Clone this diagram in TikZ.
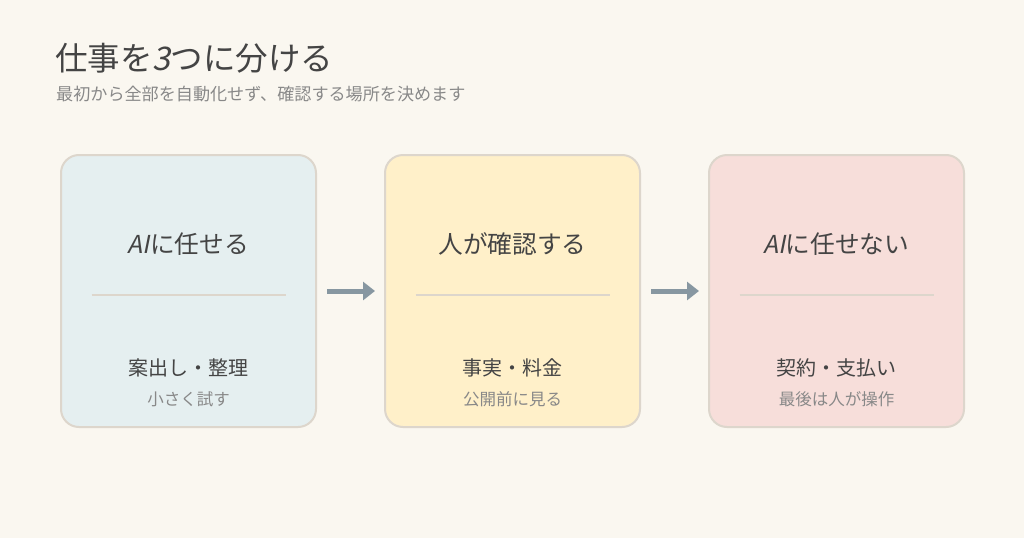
\documentclass[tikz,border=0pt]{standalone}
\usepackage{fontspec}
\setmainfont{Noto Sans CJK JP}
\newfontfamily\slfont[FakeSlant=0.2]{Noto Sans CJK JP}
\usetikzlibrary{arrows.meta}
\definecolor{bg}{HTML}{FAF7F0}
\definecolor{bd}{HTML}{DDD6CC}
\definecolor{cA}{HTML}{E5EFF0}
\definecolor{cB}{HTML}{FFF0C9}
\definecolor{cC}{HTML}{F7DEDA}
\definecolor{tx}{HTML}{444444}
\definecolor{gr}{HTML}{888888}
\definecolor{ar}{HTML}{8797A1}
\tikzset{
 card/.style={draw=bd,line width=2pt,rounded corners=18pt,minimum width=255pt,minimum height=272pt,inner sep=0pt},
 head/.style={text=tx,font=\fontsize{24.7}{29}\selectfont,anchor=center},
 lab/.style={text=tx,font=\fontsize{20}{24}\selectfont,anchor=center},
 sub/.style={text=gr,font=\fontsize{16.5}{19}\selectfont,anchor=center},
 div/.style={draw=bd,line width=1.2pt},
 arr/.style={draw=ar,line width=5pt,-{Triangle[length=12pt,width=18pt]}}
}
\begin{document}
\begin{tikzpicture}[x=1pt,y=-1pt]
\fill[bg] (0,0) rectangle (1024,538);
\useasboundingbox (0,0) rectangle (1024,538);
\node[anchor=base west,text=tx,font=\fontsize{32.5}{36}\selectfont,inner sep=0pt] (t) at (55,70) {仕事を{\slfont 3}つに分ける};
\node[anchor=base west,text=gr,font=\fontsize{17.1}{20}\selectfont,inner sep=0pt] (s) at (56,100) {最初から全部を自動化せず、確認する場所を決めます};
\foreach \n/\x/\c/\h/\l/\s in {a/188.5/cA/{{\slfont AI}に任せる}/{案出し・整理}/{小さく試す},
 b/512.5/cB/{人が確認する}/{事実・料金}/{公開前に見る},
 c/836.5/cC/{{\slfont AI}に任せない}/{契約・支払い}/{最後は人が操作}}{
 \node[card,fill=\c] (\n) at (\x,291) {};
 \node[head] (\n h) at (\x,244) {\h};
 \draw[div] (\x-97,295) -- (\x+97,295);
 \node[lab] (\n l) at (\x,368) {\l};
 \node[sub] (\n s) at (\x,399) {\s};
}
\draw[arr] ([xshift=10pt]a.east) -- ([xshift=58pt]a.east);
\draw[arr] ([xshift=10pt]b.east) -- ([xshift=58pt]b.east);
\end{tikzpicture}
\end{document}
